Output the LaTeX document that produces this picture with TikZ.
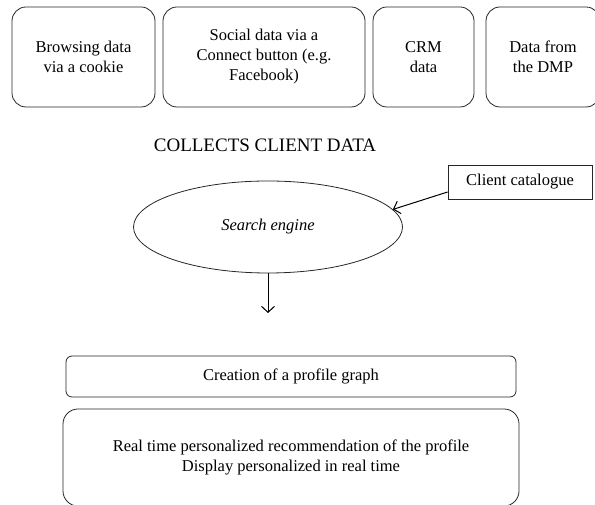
\documentclass[tikz,border=0pt]{standalone}
\usepackage{fontspec}
\setmainfont{Liberation Serif}
\usetikzlibrary{positioning,shapes.geometric,arrows.meta}

\tikzstyle{block} = [rectangle, draw=black!85, line width=0.8pt, rounded corners=14pt,
    align=center, minimum height=100pt, font=\fontsize{16.5}{20}\selectfont]
\tikzstyle{wideblock} = [rectangle, draw=black!85, line width=0.8pt,
    align=center, font=\fontsize{16.5}{20}\selectfont]
\tikzstyle{title}=[font=\fontsize{19}{22}\selectfont]
\tikzstyle{line} = [draw, line width=1pt, -{Straight Barb[length=6pt,width=13pt]}]

\begin{document}
\begin{tikzpicture}[node distance =4cm, auto]
\useasboundingbox (0,0) rectangle (595pt,505pt);
\clip (0,0) rectangle (595pt,505pt);

%Sources of data
\node (Browsing) [block, minimum width=143pt] at (83.5pt,448pt) {Browsing data\\via a cookie};
\node (Social) [block, right of=Browsing, node distance=180.5pt, minimum width=202pt]{Social data via a\\Connect button (e.g.\\Facebook)};
\node (CRM) [block, right of=Social, node distance=159.5pt, minimum width=101pt]{CRM\\data};
\node (DMP) [block, right of=CRM, node distance=119.5pt, minimum width=114pt]{Data from\\the DMP};

\node (Collects) [title] at (265pt,360pt) {COLLECTS CLIENT DATA};

%Engine
\node (Engine) [ellipse, draw=black!85, line width=0.8pt, minimum width=269pt, minimum height=92pt,
    inner sep=0pt, font=\fontsize{16.5}{20}\selectfont\itshape] at (268pt,278pt) {Search engine};
\node (Catalogue) [wideblock, minimum width=144pt, minimum height=34pt] at (520pt,323pt) {Client catalogue};
\coordinate [below of=Engine, node distance=86pt] (EngineOut);

%Below
\node (Profile) [wideblock, rounded corners=6pt, minimum width=450pt, minimum height=41pt] at (291pt,128.5pt) {Creation of a profile graph};
\node (Display) [wideblock, rounded corners=15pt, minimum width=456pt, minimum height=97pt] at (291pt,47.5pt) {Real time personalized recommendation of the profile\\Display personalized in real time};

\path [line]([yshift=-10pt]Catalogue.west)--(Engine.8);
\path [line](Engine.south)--(EngineOut);

\end{tikzpicture}
\end{document}
